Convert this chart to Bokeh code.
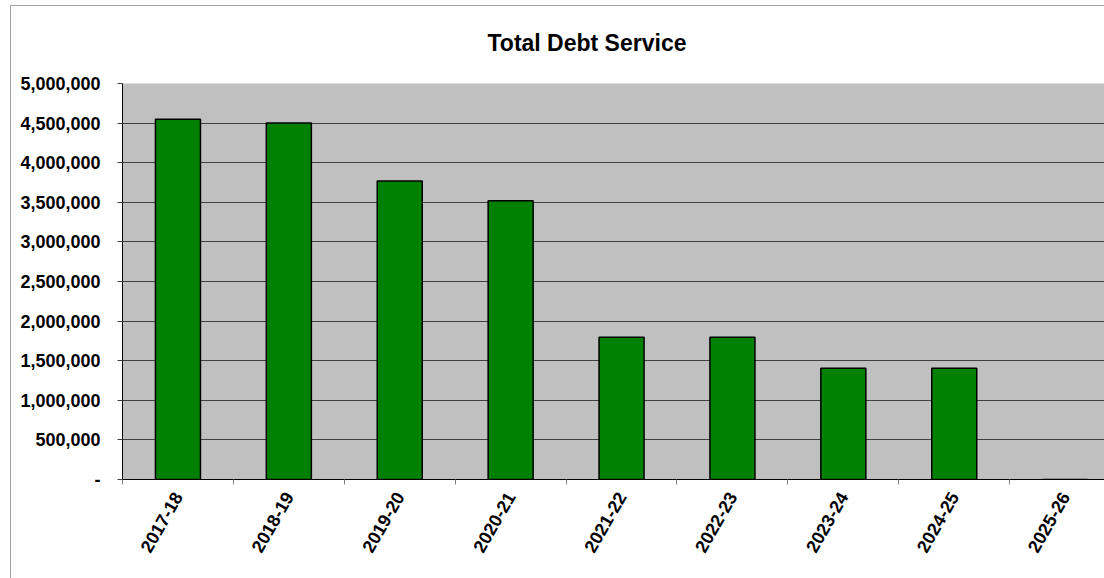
import math
from bokeh.plotting import figure
from bokeh.models import Range1d, FixedTicker, CustomJSTickFormatter, Title, ColumnDataSource, InlineStyleSheet
from bokeh.embed import file_html
from bokeh.resources import INLINE

categories = ["2017-18", "2018-19", "2019-20", "2020-21", "2021-22",
              "2022-23", "2023-24", "2024-25", "2025-26"]
debt_service = [4550000, 4500000, 3770000, 3520000, 1797000,
                1797000, 1405000, 1405000, 0]
y_ticks = [0, 500000, 1000000, 1500000, 2000000, 2500000,
           3000000, 3500000, 4000000, 4500000, 5000000]
title_text = "Total Debt Service"

FONT = "Liberation Sans"

xs = [i + 0.5 for i in range(len(categories))]
src = ColumnDataSource(dict(x=xs, top=debt_service, cat=categories))

p = figure(width=1104, height=578, output_backend="svg", toolbar_location=None,
           x_range=Range1d(0, 8.855), y_range=Range1d(0, 5000000),
           min_border_left=122, min_border_right=0, min_border_top=83,
           min_border_bottom=99)
p.title = None
t = Title(text=title_text, align="left", offset=365, text_font=FONT,
          text_font_size="23px", text_font_style="bold", text_color="black",
          standoff=55)
p.add_layout(t, "above")

p.background_fill_color = "#c0c0c0"
p.border_fill_color = "white"
p.outline_line_color = None

p.vbar(x="x", top="top", width=0.406, bottom=0, source=src,
       fill_color="#008000", line_color="black", line_width=1.5)

# outer chart border (thin grey frame around the whole chart)
p.stylesheets = [InlineStyleSheet(css="""
:host { position: relative; overflow: hidden; }
:host::after {
  content: ""; position: absolute; left: 10px; top: 5px;
  width: 2000px; height: 2000px; border: 1px solid #a0a0a0;
  pointer-events: none; box-sizing: border-box;
}
""")]

# y axis
p.yaxis.ticker = FixedTicker(ticks=y_ticks, minor_ticks=[])
p.yaxis.formatter = CustomJSTickFormatter(code="""
    if (tick == 0) { return "-"; }
    return Math.round(tick).toString().replace(/\\B(?=(\\d{3})+(?!\\d))/g, ",");
""")
p.yaxis.axis_line_color = "black"
p.yaxis.major_tick_out = 5
p.yaxis.major_tick_in = 0
p.yaxis.major_tick_line_color = "#404040"
p.yaxis.minor_tick_line_color = None
p.yaxis.major_label_text_font = FONT
p.yaxis.major_label_text_font_size = "18px"
p.yaxis.major_label_text_font_style = "bold"
p.yaxis.major_label_text_color = "black"
p.yaxis.major_label_standoff = 17

# x axis
p.xaxis.ticker = FixedTicker(ticks=xs, minor_ticks=list(range(len(categories) + 1)))
p.xaxis.formatter = CustomJSTickFormatter(args=dict(labels=categories), code="""
    const i = Math.floor(tick);
    return (i >= 0 && i < labels.length) ? labels[i] : "";
""")
p.xaxis.axis_line_color = "black"
p.xaxis.major_tick_line_color = None
p.xaxis.minor_tick_line_color = "#808080"
p.xaxis.minor_tick_out = 5
p.xaxis.minor_tick_in = 0
p.xaxis.major_label_orientation = math.pi / 3
p.xaxis.major_label_text_font = FONT
p.xaxis.major_label_text_font_size = "18px"
p.xaxis.major_label_text_font_style = "bold"
p.xaxis.major_label_text_color = "black"
p.xaxis.major_label_standoff = 8

p.xgrid.grid_line_color = None
p.ygrid.ticker = FixedTicker(ticks=y_ticks)
p.ygrid.grid_line_color = "#404040"
p.ygrid.grid_line_width = 1

open("out.html", "w").write(file_html(p, INLINE))
